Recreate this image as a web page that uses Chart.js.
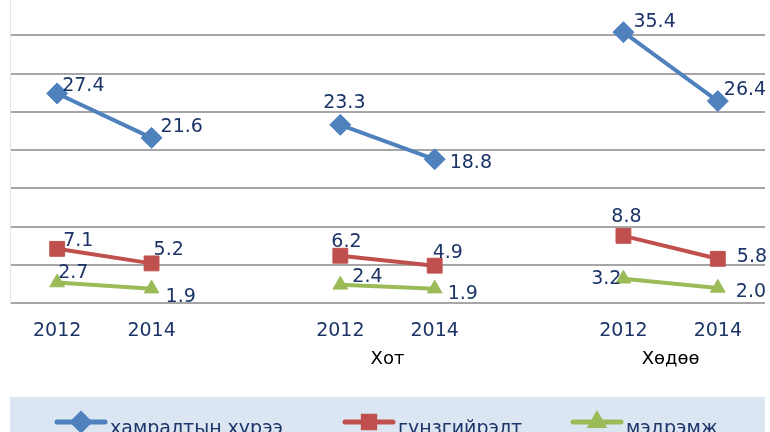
<!DOCTYPE html>
<html>
  <head>
    <style>
      body { margin: 0; overflow: hidden; background: #fff; }
      #chartContainer {
        position: absolute;
        left: 0;
        top: -3px;
        width: 770px;
        height: 435px;
      }
    </style>
  </head>

  <body>
    <div id="chartContainer">
      <canvas id="myChart"></canvas>
    </div>

    <script src="https://cdn.jsdelivr.net/npm/chart.js"></script>
    <script>
      const ctx = document.getElementById('myChart');

      // data
      const years = ['2012', '2014', '', '2012', '2014', '', '2012', '2014'];
      const groupCenters = [0.5, 3.5, 6.5];
      const groupNames = ['', 'Хот', 'Хөдөө'];
      const seriesNames = ['хамралтын хүрээ', 'гүнзгийрэлт', 'мэдрэмж'];
      const coverage = [27.4, 21.6, null, 23.3, 18.8, null, 35.4, 26.4];
      const depth = [7.1, 5.2, null, 6.2, 4.9, null, 8.8, 5.8];
      const sense = [2.7, 1.9, null, 2.4, 1.9, null, 3.2, 2.0];

      const colors = ['#4f81bd', '#c0504d', '#9bbb59'];
      const markers = ['rectRot', 'rect', 'triangle'];
      const markerSize = [10.5, 10.5, 8.5];
      const textColor = '#1c3468';
      const fontFamily = '"DejaVu Sans", sans-serif';

      // where each value label sits next to its point: [dx, dy, align]
      const labelPos = [
        [[5, -7, 'left'], [9, -11, 'left'], null, [4, -22, 'center'], [15, 4, 'left'], null, [10, -10, 'left'], [6, -11, 'left']],
        [[6, -8, 'left'], [2, -13, 'left'], null, [-9, -14, 'left'], [-2, -13, 'left'], null, [3, -19, 'center'], [19, -2, 'left']],
        [[1, -9, 'left'], [14, 8, 'left'], null, [12, -8, 'left'], [13, 5, 'left'], null, [-2, 0, 'right'], [18, 4, 'left']]
      ];

      const seriesData = [coverage, depth, sense];

      const datasets = seriesData.map((d, i) => ({
        label: seriesNames[i],
        data: d,
        borderColor: colors[i],
        backgroundColor: colors[i],
        pointBackgroundColor: colors[i],
        pointBorderColor: colors[i],
        borderWidth: 4,
        pointStyle: markers[i],
        pointRadius: markerSize[i],
        pointBorderWidth: 1,
        spanGaps: false,
        tension: 0
      }));

      const valueLabels = {
        id: 'valueLabels',
        afterDatasetsDraw(chart) {
          const c = chart.ctx;
          c.save();
          c.font = '19px ' + fontFamily;
          c.fillStyle = textColor;
          c.textBaseline = 'middle';
          chart.data.datasets.forEach((ds, i) => {
            const meta = chart.getDatasetMeta(i);
            meta.data.forEach((pt, j) => {
              const v = ds.data[j];
              const pos = labelPos[i][j];
              if (v == null || !pos) return;
              c.textAlign = pos[2];
              c.fillText(v.toFixed(1), pt.x + pos[0], pt.y + pos[1]);
            });
          });
          c.restore();
        }
      };

      // group names under each pair of years
      const groupLabels = {
        id: 'groupLabels',
        afterDraw(chart) {
          const c = chart.ctx;
          const xs = chart.scales.x;
          c.save();
          c.font = '18px ' + fontFamily;
          c.fillStyle = '#000';
          c.textAlign = 'center';
          c.textBaseline = 'middle';
          groupCenters.forEach((v, i) => {
            c.fillText(groupNames[i], xs.getPixelForValue(v), chart.chartArea.bottom + 56);
          });
          c.restore();
        }
      };

      const boxLegend = {
        id: 'boxLegend',
        afterDraw(chart) {
          const c = chart.ctx;
          const area = chart.chartArea;
          const top = chart.height - 35;
          c.save();
          c.fillStyle = '#dce6f2';
          c.fillRect(area.left, top, area.right - area.left, 40);
          const starts = [57, 345, 573];
          const lineY = chart.height - 10;
          seriesNames.forEach((name, i) => {
            const x = starts[i];
            c.strokeStyle = colors[i];
            c.lineWidth = 5;
            c.lineCap = 'round';
            c.beginPath();
            c.moveTo(x, lineY);
            c.lineTo(x + 48, lineY);
            c.stroke();
            c.fillStyle = colors[i];
            Chart.helpers.drawPoint(c, {
              pointStyle: markers[i],
              radius: i === 2 ? 7 : 8,
              rotation: 0,
              borderWidth: 1
            }, x + 24, lineY);
            c.fill();
            c.fillStyle = textColor;
            c.font = '19px ' + fontFamily;
            c.textAlign = 'left';
            c.textBaseline = 'alphabetic';
            c.fillText(name, x + 53, chart.height + 1.5);
          });
          c.restore();
        }
      };

      const lineChart = new Chart(ctx, {
        type: 'line',
        data: {
          labels: years,
          datasets: datasets
        },
        plugins: [valueLabels, groupLabels, boxLegend],
        options: {
          responsive: true,
          maintainAspectRatio: false,
          animation: false,
          layout: {
            autoPadding: false,
            padding: { left: 10, right: 5, top: 0, bottom: 74 }
          },
          plugins: {
            legend: { display: false },
            tooltip: { enabled: false }
          },
          scales: {
            x: {
              type: 'category',
              offset: true,
              grid: { display: false, drawTicks: false },
              border: { display: false },
              ticks: {
                autoSkip: false,
                maxRotation: 0,
                padding: 16,
                color: textColor,
                font: { family: fontFamily, size: 19 }
              }
            },
            y: {
              min: 0,
              max: 40,
              ticks: { display: false, stepSize: 5 },
              grid: {
                drawTicks: false,
                color: (c) => (c.tick && c.tick.value === 40 ? 'rgba(0,0,0,0)' : '#a6a6a6'),
                lineWidth: 2
              },
              border: { display: true, color: '#e4e4e4', width: 1 }
            }
          }
        }
      });
    </script>
  </body>
</html>
